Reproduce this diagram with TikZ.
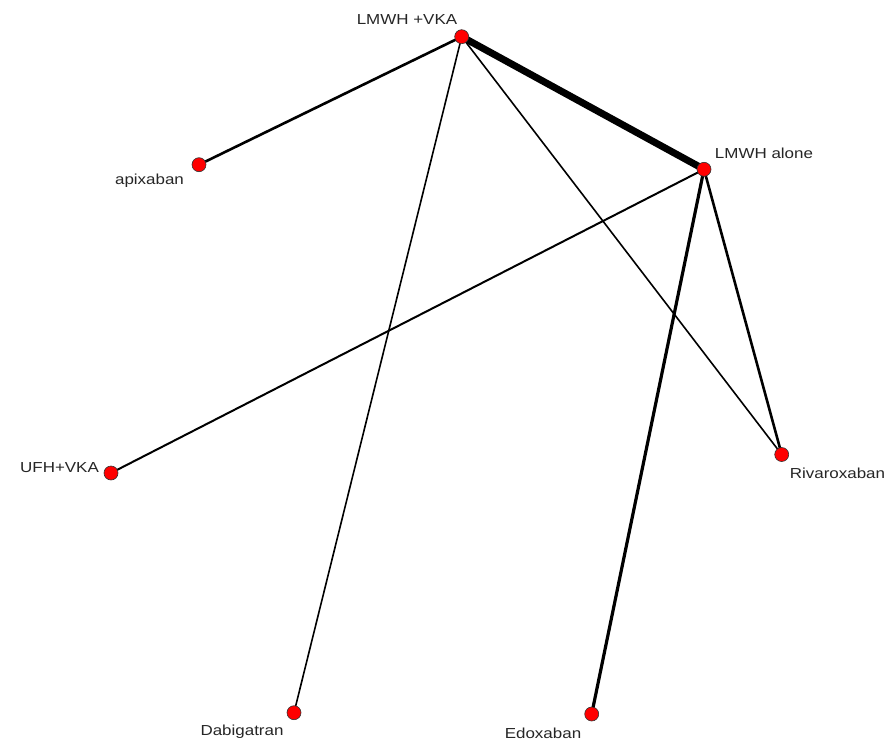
\documentclass[tikz,border=0pt]{standalone}
\usepackage{fontspec}
\setmainfont{Liberation Sans}
\tikzset{
  dot/.style={circle,fill=red,draw=black!80,line width=0.6bp,inner sep=0pt,minimum size=14bp},
  lbl/.style={inner sep=0pt,font=\fontsize{14.5bp}{16bp}\selectfont,text=black!85},
  edge/.style={line width=#1,black}
}
\newcommand{\wtext}[1]{\scalebox{1.17}[1]{#1}}
\begin{document}
\begin{tikzpicture}[x=1bp,y=-1bp]
\useasboundingbox (0,0) rectangle (892,746);
\fill[white] (0,0) rectangle (892,746);
\coordinate (cv) at (461.7,36.7);
\coordinate (ca) at (704,169.3);
\coordinate (cp) at (199,164.7);
\coordinate (cu) at (111,473);
\coordinate (cr) at (781.7,454.5);
\coordinate (cd) at (294,712.7);
\coordinate (ce) at (591.7,714);
\draw[edge=7bp] (cv) -- (ca);
\draw[edge=2.6bp] (cv) -- (cp);
\draw[edge=1.6bp] (cv) -- (cd);
\draw[edge=1.6bp] (cv) -- (cr);
\draw[edge=2bp] (ca) -- (cu);
\draw[edge=3.2bp] (ca) -- (ce);
\draw[edge=2.6bp] (ca) -- (cr);
\node[dot] (v) at (cv) {};
\node[dot] (a) at (ca) {};
\node[dot] (p) at (cp) {};
\node[dot] (u) at (cu) {};
\node[dot] (r) at (cr) {};
\node[dot] (d) at (cd) {};
\node[dot] (e) at (ce) {};
\node[lbl] (lv) at (407,20) {\wtext{LMWH +VKA}};
\node[lbl] (la) at (764,153) {\wtext{LMWH alone}};
\node[lbl] (lp) at (149.5,181) {\wtext{apixaban}};
\node[lbl] (lu) at (59.5,468) {\wtext{UFH+VKA}};
\node[lbl] (lr) at (837.5,473) {\wtext{Rivaroxaban}};
\node[lbl] (ld) at (242,731.5) {\wtext{Dabigatran}};
\node[lbl] (le) at (543,733) {\wtext{Edoxaban}};
\end{tikzpicture}
\end{document}
